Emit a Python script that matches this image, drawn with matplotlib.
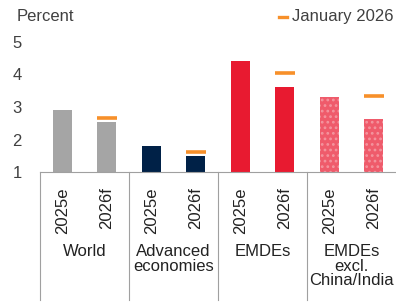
import numpy as np
import matplotlib
matplotlib.use("Agg")
import matplotlib.pyplot as plt
from matplotlib.lines import Line2D

plt.rcParams['font.family'] = ['Liberation Sans', 'DejaVu Sans']
plt.rcParams['hatch.linewidth'] = 1.2

groups = ["World", "Advanced\neconomies", "EMDEs", "EMDEs\nexcl.\nChina/India"]
years = ["2025e", "2026f"]
values = [2.9, 2.55, 1.8, 1.5, 4.42, 3.62, 3.32, 2.62]
january = [None, 2.66, None, 1.62, None, 4.05, None, 3.33]

colors = ["#A5A5A5", "#A5A5A5", "#002147", "#002147",
          "#E81A30", "#E81A30", "#EF5B6B", "#EF5B6B"]
hatches = [None, None, None, None, None, None, "...", "..."]

fig = plt.figure(figsize=(3.96, 3.03), dpi=100)
ax = fig.add_axes([0.101, 0.432, 0.899, 0.43])

x = np.arange(len(values))
for i in range(len(values)):
    if hatches[i]:
        ax.bar(x[i], values[i] - 1, bottom=1, width=0.43, color=colors[i],
               hatch=hatches[i], edgecolor="#F4949E", linewidth=0)
    else:
        ax.bar(x[i], values[i] - 1, bottom=1, width=0.43, color=colors[i], linewidth=0)

jx = [x[i] for i in range(len(values)) if january[i] is not None]
jy = [january[i] for i in range(len(values)) if january[i] is not None]
ax.scatter(jx, jy, marker="_", s=200, color="#F7902A", linewidths=2.6, zorder=3)

ax.set_xlim(-0.5, 7.5)
ax.set_ylim(1, 5)
ax.set_yticks([1, 2, 3, 4, 5])
ax.tick_params(axis="y", length=0, labelsize=12, colors="#404040", pad=13)
ax.set_xticks(x)
ax.set_xticklabels(years * 4, rotation=90, fontsize=12, color="#222222")
ax.tick_params(axis="x", length=0, pad=11)

for s in ["top", "right", "left"]:
    ax.spines[s].set_visible(False)
ax.spines["bottom"].set_color("#A0A0A0")
ax.spines["bottom"].set_linewidth(0.8)

# group separators below the axis
for k in range(4):
    xs = k / 4.0
    ax.add_line(Line2D([xs, xs], [0, -0.98], transform=ax.transAxes,
                       color="#A0A0A0", linewidth=0.8, clip_on=False))
    ax.text((k + 0.5) / 4.0, -0.555, groups[k], transform=ax.transAxes,
            ha="center", va="top", fontsize=12, color="#222222", linespacing=0.95)

fig.text(0.043, 0.945, "Percent", fontsize=12, color="#404040", ha="left", va="center")

# legend
fig.add_artist(Line2D([279 / 396, 287 / 396], [1 - 17 / 303, 1 - 17 / 303],
                      transform=fig.transFigure, color="#F7902A", linewidth=2.4))
fig.text(0.993, 1 - 17 / 303, "January 2026", fontsize=12, color="#404040",
         ha="right", va="center")

fig.savefig("out.png", dpi=100)
